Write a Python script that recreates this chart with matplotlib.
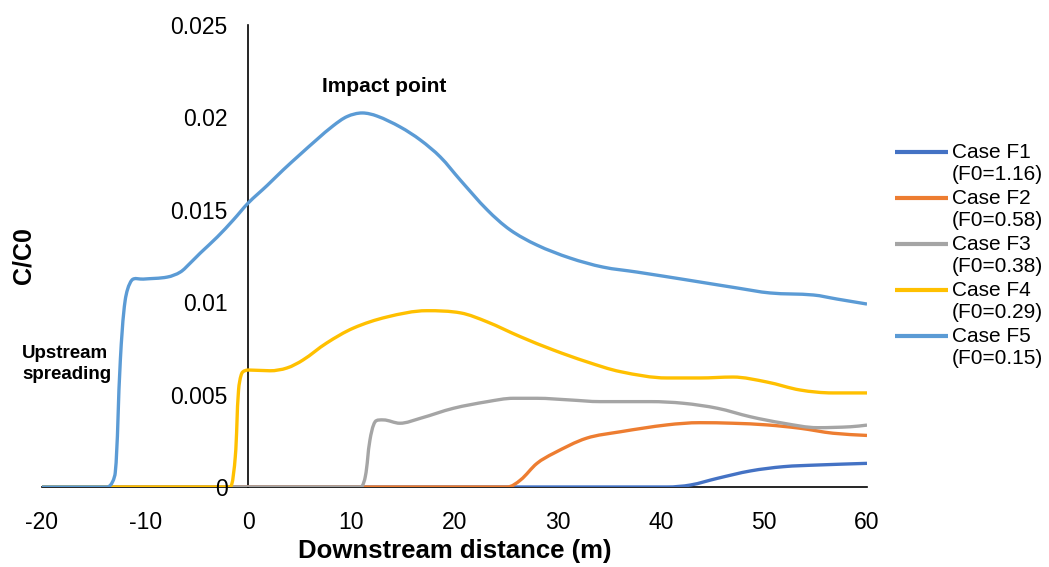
import matplotlib
matplotlib.use("Agg")
import matplotlib.pyplot as plt
import numpy as np
from matplotlib.path import Path
from matplotlib.patches import PathPatch
from matplotlib.lines import Line2D

plt.rcParams['font.family'] = ['Liberation Sans', 'DejaVu Sans']
plt.rcParams['axes.unicode_minus'] = False

# Concentration profiles C/C0 along the channel, one series per case
x_f1 = [-20, 0, 20, 38, 40.6, 42.9, 45.5, 48.7, 51.9, 55.2, 60]
c_f1 = [0, 0, 0, 0, 0, 0.00011, 0.00047, 0.00087, 0.0011, 0.00119, 0.00128]

x_f2 = [-20, 0, 20, 25.1, 26.4, 28.0, 29.6, 32.8, 36.1, 40.6, 43.8, 47.0, 50.3, 53.5, 56.7, 60]
c_f2 = [0, 0, 0, 0, 0.00038, 0.00128, 0.00182, 0.00264, 0.00299, 0.00336, 0.00348,
        0.00345, 0.00336, 0.00318, 0.00291, 0.00279]

x_f3 = [-20, 0, 10.9, 11.35, 11.8, 12.3, 13.1, 14.7, 16.7, 19.9, 23.2, 25.7, 28.0, 31.2, 34.1,
        39.0, 42.2, 45.5, 48.7, 51.9, 55.2, 58.4, 60]
c_f3 = [0, 0, 0, 0.00056, 0.00254, 0.00353, 0.00363, 0.00345, 0.00372, 0.00426, 0.00462, 0.0048,
        0.0048, 0.00471, 0.00462, 0.00462, 0.00453, 0.00426, 0.0038, 0.00345, 0.00321, 0.00326, 0.00335]

x_f4 = [-20, -1.75, -1.26, -0.94, -0.61, 0.03, 2.1, 3.75, 5.3, 7.6, 10.2, 13.45, 17.3, 20.6, 23.15,
        26.4, 29.6, 32.8, 36.1, 40.6, 43.8, 47.0, 50.3, 53.5, 56.7, 60]
c_f4 = [0, 0, 0.00162, 0.00525, 0.00617, 0.00633, 0.00629, 0.00644, 0.00687, 0.00779, 0.0086, 0.0092,
        0.00954, 0.00942, 0.00894, 0.00813, 0.00741, 0.00678, 0.00624, 0.0059, 0.0059,
        0.00595, 0.00568, 0.00525, 0.00509, 0.00509]

x_f5 = [-20, -13.67, -12.9, -12.4, -11.93, -11.28, -10.18, -7.85, -6.59, -5.62, -4.65, -3.0, -1.45,
        0, 1.84, 3.39, 5.04, 6.69, 8.24, 9.6, 11.05, 12.5, 14.74, 16.68, 18.62, 20.56, 23.18, 25.4,
        28.0, 31.2, 34.4, 37.7, 42.6, 47.4, 50.6, 54.8, 57.1, 60]
c_f5 = [0, 0, 0.00076, 0.0069, 0.01012, 0.0112, 0.01125, 0.01136, 0.01163, 0.01212, 0.01266,
        0.01353, 0.01445, 0.01537, 0.01632, 0.01716, 0.018, 0.01882, 0.01955, 0.02005, 0.02024,
        0.02007, 0.01948, 0.01878, 0.01786, 0.01661, 0.01499, 0.01391, 0.01309, 0.01239, 0.0119,
        0.01163, 0.0112, 0.01077, 0.0105, 0.01039, 0.01017, 0.0099]

cases = ["Case F1", "Case F2", "Case F3", "Case F4", "Case F5"]
froude = ["(F0=1.16)", "(F0=0.58)", "(F0=0.38)", "(F0=0.29)", "(F0=0.15)"]
colors = ["#4472C4", "#ED7D31", "#A5A5A5", "#FFC000", "#5B9BD5"]
series_x = [x_f1, x_f2, x_f3, x_f4, x_f5]
series_c = [c_f1, c_f2, c_f3, c_f4, c_f5]

x_ticks = [-20, -10, 0, 10, 20, 30, 40, 50, 60]
y_ticks = [0, 0.005, 0.01, 0.015, 0.02, 0.025]
y_tick_labels = ["0", "0.005", "0.01", "0.015", "0.02", "0.025"]

XLIM = (-20, 60)
YLIM = (0, 0.025)


def smoothed_path(xs, ys, sx, sy):
    """Cubic Bezier path through the points (smoothed-line style).

    Work in screen-like units (sx, sy per data unit): each point gets a
    unit tangent; a handle is a third of its chord long but never reaches
    past half the chord's horizontal span, so the curve always moves
    forward in x. At local extrema and flat stretches the tangent is
    kept horizontal.
    """
    scale = np.array([sx, sy])
    q = np.column_stack([np.asarray(xs, float), np.asarray(ys, float)]) * scale
    seg = np.diff(q, axis=0)
    d = np.hypot(*seg.T)
    n = len(q)
    t = np.zeros_like(q)
    for i in range(n):
        if i == 0:
            v = q[1] - q[0]
        elif i == n - 1:
            v = q[-1] - q[-2]
        else:
            v = q[i + 1] - q[i - 1]
            if (q[i, 1] - q[i - 1, 1]) * (q[i + 1, 1] - q[i, 1]) <= 0:
                v = np.array([v[0], 0.0])
        t[i] = v / np.hypot(*v)

    def handle(tan, chord, dx):
        length = chord / 3
        if tan[0] > 1e-9:
            length = min(length, 0.5 * dx / tan[0])
        return tan * length

    verts = [q[0]]
    codes = [Path.MOVETO]
    for i in range(n - 1):
        c1 = q[i] + handle(t[i], d[i], seg[i, 0])
        c2 = q[i + 1] - handle(t[i + 1], d[i], seg[i, 0])
        verts += [c1, c2, q[i + 1]]
        codes += [Path.CURVE4] * 3
    return Path(np.array(verts) / scale, codes)


fig = plt.figure(figsize=(10.49, 5.67), dpi=100)
ax_w_px, ax_h_px = 867 - 42, 487 - 25
ax = fig.add_axes([42 / 1049, 1 - 487 / 567, ax_w_px / 1049, ax_h_px / 567])

sx = ax_w_px / (XLIM[1] - XLIM[0])
sy = ax_h_px / (YLIM[1] - YLIM[0])
for xs, cs, color in zip(series_x, series_c, colors):
    ax.add_patch(PathPatch(smoothed_path(xs, cs, sx, sy), facecolor='none',
                           edgecolor=color, lw=2.4, capstyle='butt', joinstyle='round'))

ax.set_xlim(*XLIM)
ax.set_ylim(*YLIM)
ax.set_xticks(x_ticks)
ax.set_yticks(y_ticks)
ax.set_yticklabels(y_tick_labels)

for side in ("top", "right"):
    ax.spines[side].set_visible(False)
ax.spines['left'].set_position(('data', 0))
ax.spines['left'].set_zorder(0.5)
ax.spines['bottom'].set_zorder(0.5)
ax.spines['left'].set_linewidth(1.2)
ax.spines['bottom'].set_linewidth(1.2)
ax.tick_params(axis='both', length=0, labelsize=16.5)
ax.tick_params(axis='y', pad=15)
ax.tick_params(axis='x', pad=17)

fig.text(455 / 1049, 1 - 551 / 567, "Downstream distance (m)", ha='center', va='center',
         fontsize=18.5, fontweight='bold')
fig.text(23 / 1049, 1 - 256 / 567, "C/C0", ha='center', va='center', rotation=90,
         fontsize=18, fontweight='bold')

fig.text(384 / 1049, 1 - 87 / 567, "Impact point",
         ha='center', va='center', fontsize=15, fontweight='bold')
fig.text(22 / 1049, 1 - 364 / 567, "Upstream\nspreading",
         ha='left', va='center', fontsize=13.5, fontweight='bold', linespacing=1.3)

# Legend on the right: colour key beside the case name, Froude number below
for i, (case, fr, color) in enumerate(zip(cases, froude, colors)):
    y_top = 1 - (152 + 46 * i) / 567
    y_bot = 1 - (175 + 46 * i) / 567
    fig.add_artist(Line2D([895 / 1049, 948 / 1049], [y_top, y_top], color=color, lw=3,
                          transform=fig.transFigure, solid_capstyle='butt'))
    fig.text(952 / 1049, y_top, case, ha='left', va='center', fontsize=15)
    fig.text(952 / 1049, y_bot, fr, ha='left', va='center', fontsize=15)

fig.savefig("out.png", dpi=100)
